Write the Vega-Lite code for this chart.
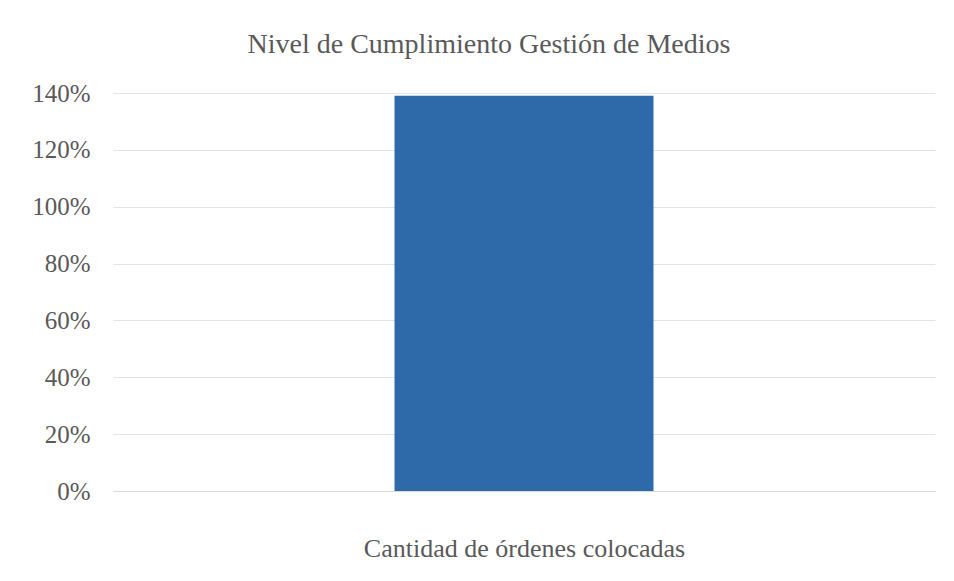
{
  "$schema": "https://vega.github.io/schema/vega-lite/v6.json",
  "autosize": {"type": "none"},
  "width": 822,
  "height": 398,
  "padding": {"left": 113, "top": 93, "right": 19, "bottom": 90},
  "background": "white",
  "data": {"values": [{"categoria": "Cantidad de órdenes colocadas", "cumplimiento": 1.39}]},
  "title": {
    "text": "Nivel de Cumplimiento Gestión de Medios",
    "font": "Liberation Serif, DejaVu Serif, serif",
    "fontSize": 28,
    "fontWeight": "normal",
    "color": "#595959",
    "anchor": "middle",
    "offset": 22,
    "dx": -35
  },
  "mark": {"type": "bar", "color": "#2e6aa9"},
  "encoding": {
    "x": {
      "field": "categoria",
      "type": "nominal",
      "scale": {"paddingInner": 0.08, "paddingOuter": 1},
      "axis": {
        "title": "Cantidad de órdenes colocadas",
        "labels": false,
        "ticks": false,
        "domain": true,
        "domainColor": "#d9d9d9",
        "titleFont": "Liberation Serif, DejaVu Serif, serif",
        "titleFontSize": 26,
        "titleFontWeight": "normal",
        "titleColor": "#595959",
        "titlePadding": 44
      }
    },
    "y": {
      "field": "cumplimiento",
      "type": "quantitative",
      "scale": {"domain": [0, 1.4]},
      "axis": {
        "title": null,
        "format": ".0%",
        "values": [0, 0.2, 0.4, 0.6, 0.8, 1.0, 1.2, 1.4],
        "domain": false,
        "ticks": false,
        "labelPadding": 23,
        "labelFont": "Liberation Serif, DejaVu Serif, serif",
        "labelFontSize": 25,
        "labelColor": "#595959",
        "gridColor": "#e3e3e3"
      }
    }
  },
  "config": {"view": {"stroke": null}}
}
